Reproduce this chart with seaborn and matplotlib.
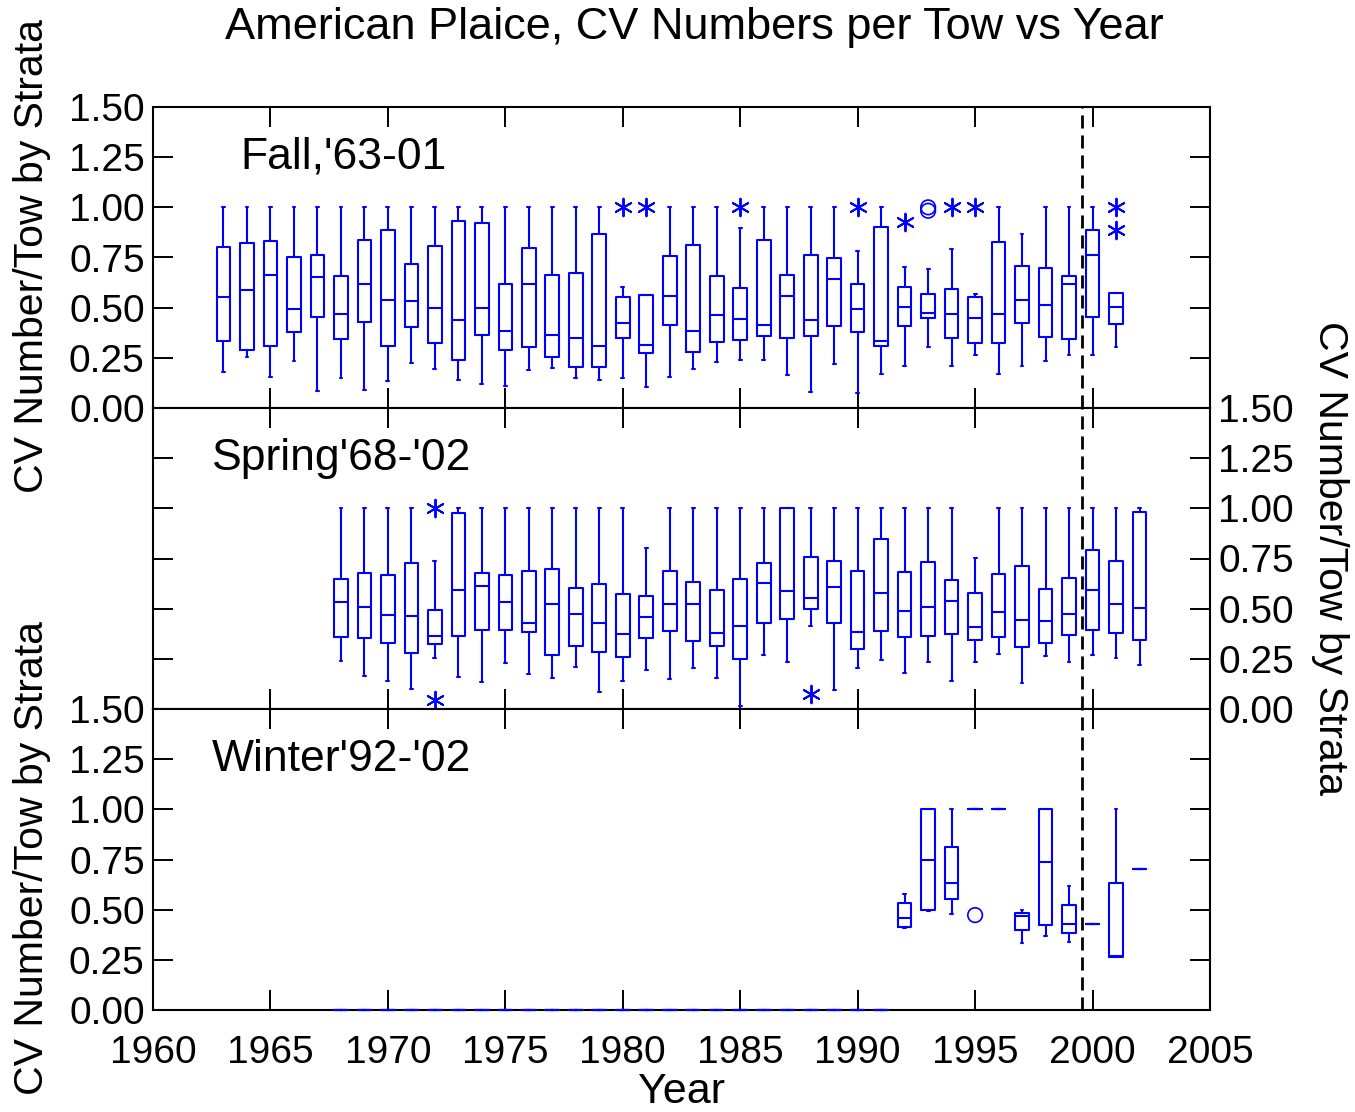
import numpy as np
import pandas as pd
import seaborn as sns
import matplotlib.pyplot as plt
from matplotlib.ticker import FormatStrFormatter, MultipleLocator

# Fall survey, five-number summaries per year
fall_years = list(range(1963, 2002))
fall_low = [0.18, 0.254, 0.154, 0.233, 0.085, 0.151, 0.09, 0.135, 0.226, 0.196,
            0.139, 0.119, 0.108, 0.191, 0.20, 0.15, 0.139, 0.151, 0.106, 0.155,
            0.195, 0.229, 0.241, 0.239, 0.166, 0.08, 0.218, 0.076, 0.167, 0.211,
            0.305, 0.209, 0.265, 0.167, 0.211, 0.234, 0.265, 0.265, 0.302]
fall_q1 = [0.335, 0.29, 0.309, 0.38, 0.452, 0.345, 0.43, 0.31, 0.405, 0.324,
           0.239, 0.365, 0.29, 0.304, 0.254, 0.203, 0.203, 0.349, 0.272, 0.415,
           0.277, 0.327, 0.339, 0.357, 0.349, 0.36, 0.408, 0.38, 0.309, 0.407,
           0.448, 0.349, 0.324, 0.325, 0.424, 0.355, 0.345, 0.452, 0.419]
fall_med = [0.553, 0.59, 0.664, 0.495, 0.653, 0.468, 0.618, 0.54, 0.535, 0.497,
            0.44, 0.497, 0.385, 0.619, 0.365, 0.347, 0.31, 0.425, 0.312, 0.559,
            0.385, 0.463, 0.445, 0.415, 0.559, 0.437, 0.644, 0.492, 0.335, 0.501,
            0.473, 0.468, 0.447, 0.466, 0.536, 0.513, 0.619, 0.762, 0.501]
fall_q3 = [0.80, 0.82, 0.834, 0.754, 0.761, 0.659, 0.839, 0.888, 0.717, 0.809,
           0.93, 0.92, 0.616, 0.799, 0.661, 0.674, 0.869, 0.555, 0.562, 0.755,
           0.81, 0.656, 0.598, 0.837, 0.663, 0.764, 0.749, 0.618, 0.903, 0.601,
           0.567, 0.593, 0.553, 0.825, 0.709, 0.698, 0.658, 0.888, 0.574]
fall_high = [1.0, 1.0, 1.0, 1.0, 1.0, 1.0, 1.0, 1.0, 1.0, 1.0,
             1.0, 1.0, 1.0, 1.0, 1.0, 1.0, 1.0, 0.605, 0.562, 1.0,
             1.0, 1.0, 0.897, 1.0, 1.0, 1.0, 1.0, 0.782, 1.0, 0.704,
             0.692, 0.791, 0.567, 1.0, 0.869, 1.0, 1.0, 1.0, 0.574]
fall_star_years = [1980, 1981, 1985, 1990, 1992, 1994, 1995, 2001, 2001]
fall_star_vals = [1.0, 1.0, 1.0, 1.0, 0.927, 1.0, 1.0, 1.0, 0.887]
fall_circ_years = [1993, 1993]
fall_circ_vals = [1.0, 0.983]

# Spring survey
spring_years = list(range(1968, 2003))
spring_low = [0.238, 0.164, 0.14, 0.101, 0.254, 0.159, 0.133, 0.228, 0.174, 0.154,
              0.209, 0.086, 0.14, 0.194, 0.149, 0.203, 0.156, 0.015, 0.269, 0.234,
              0.415, 0.095, 0.206, 0.243, 0.178, 0.236, 0.14, 0.234, 0.274, 0.131,
              0.266, 0.236, 0.268, 0.253, 0.221]
spring_q1 = [0.357, 0.355, 0.327, 0.277, 0.324, 0.365, 0.394, 0.395, 0.385, 0.269,
             0.314, 0.286, 0.259, 0.354, 0.389, 0.339, 0.315, 0.251, 0.428, 0.448,
             0.497, 0.427, 0.299, 0.389, 0.359, 0.365, 0.372, 0.342, 0.359, 0.309,
             0.329, 0.369, 0.395, 0.377, 0.342]
spring_med = [0.532, 0.507, 0.467, 0.462, 0.362, 0.591, 0.613, 0.533, 0.43, 0.522,
              0.475, 0.427, 0.375, 0.458, 0.525, 0.523, 0.38, 0.415, 0.629, 0.589,
              0.555, 0.608, 0.384, 0.576, 0.487, 0.508, 0.537, 0.41, 0.485, 0.442,
              0.438, 0.472, 0.594, 0.522, 0.505]
spring_q3 = [0.648, 0.676, 0.669, 0.726, 0.495, 0.975, 0.678, 0.666, 0.688, 0.698,
             0.603, 0.623, 0.571, 0.562, 0.689, 0.633, 0.594, 0.646, 0.729, 1.0,
             0.757, 0.736, 0.688, 0.846, 0.684, 0.734, 0.643, 0.576, 0.673, 0.715,
             0.60, 0.654, 0.792, 0.736, 0.982]
spring_high = [1.0, 1.0, 1.0, 1.0, 0.736, 1.0, 1.0, 1.0, 1.0, 1.0,
               1.0, 1.0, 1.0, 0.802, 1.0, 1.0, 1.0, 1.0, 1.0, 1.0,
               1.0, 1.0, 1.0, 1.0, 1.0, 1.0, 1.0, 0.754, 1.0, 1.0,
               1.0, 1.0, 1.0, 1.0, 1.0]
spring_star_years = [1972, 1972, 1988]
spring_star_vals = [1.0, 0.045, 0.073]

# Winter survey (no tows before 1992 -> zero)
winter_years = list(range(1968, 2003))
winter_low = [0.0, 0.0, 0.0, 0.0, 0.0, 0.0, 0.0, 0.0, 0.0, 0.0, 0.0, 0.0,
              0.0, 0.0, 0.0, 0.0, 0.0, 0.0, 0.0, 0.0, 0.0, 0.0, 0.0, 0.0,
              0.409, 0.495, 0.477, 1.0, 1.0, 0.332, 0.37, 0.34, 0.428, 0.266, 0.701]
winter_q1 = [0.0, 0.0, 0.0, 0.0, 0.0, 0.0, 0.0, 0.0, 0.0, 0.0, 0.0, 0.0,
             0.0, 0.0, 0.0, 0.0, 0.0, 0.0, 0.0, 0.0, 0.0, 0.0, 0.0, 0.0,
             0.415, 0.498, 0.555, 1.0, 1.0, 0.399, 0.422, 0.385, 0.428, 0.266, 0.701]
winter_med = [0.0, 0.0, 0.0, 0.0, 0.0, 0.0, 0.0, 0.0, 0.0, 0.0, 0.0, 0.0,
              0.0, 0.0, 0.0, 0.0, 0.0, 0.0, 0.0, 0.0, 0.0, 0.0, 0.0, 0.0,
              0.458, 0.749, 0.631, 1.0, 1.0, 0.468, 0.739, 0.43, 0.428, 0.27, 0.701]
winter_q3 = [0.0, 0.0, 0.0, 0.0, 0.0, 0.0, 0.0, 0.0, 0.0, 0.0, 0.0, 0.0,
             0.0, 0.0, 0.0, 0.0, 0.0, 0.0, 0.0, 0.0, 0.0, 0.0, 0.0, 0.0,
             0.532, 1.0, 0.814, 1.0, 1.0, 0.483, 1.0, 0.523, 0.428, 0.634, 0.701]
winter_high = [0.0, 0.0, 0.0, 0.0, 0.0, 0.0, 0.0, 0.0, 0.0, 0.0, 0.0, 0.0,
               0.0, 0.0, 0.0, 0.0, 0.0, 0.0, 0.0, 0.0, 0.0, 0.0, 0.0, 0.0,
               0.576, 1.0, 1.0, 1.0, 1.0, 0.498, 1.0, 0.619, 0.428, 1.0, 0.701]
winter_circ_years = [1995]
winter_circ_vals = [0.473]

panel_names = ["Fall,'63-01", "Spring'68-'02", "Winter'92-'02"]
ylab = 'CV Number/Tow by Strata'


def long_table(years, low, q1, med, q3, high):
    #five values per year give exactly these quartiles
    rows = []
    for i, yr in enumerate(years):
        for v in (low[i], q1[i], med[i], q3[i], high[i]):
            rows.append({'year': yr, 'cv': v})
    return pd.DataFrame(rows)


tables = [
    long_table(fall_years, fall_low, fall_q1, fall_med, fall_q3, fall_high),
    long_table(spring_years, spring_low, spring_q1, spring_med, spring_q3, spring_high),
    long_table(winter_years, winter_low, winter_q1, winter_med, winter_q3, winter_high),
]
stars = [(fall_star_years, fall_star_vals), (spring_star_years, spring_star_vals), ([], [])]
circles = [(fall_circ_years, fall_circ_vals), ([], []), (winter_circ_years, winter_circ_vals)]

sns.set_style('ticks')
plt.rcParams['font.family'] = ['Liberation Sans', 'DejaVu Sans']
plt.rcParams['text.color'] = 'black'
FS = 28

fig = plt.figure(figsize=(13.55, 11.12), dpi=100)
W, H = 1355, 1112
bottoms = [408, 709, 1010]
axes = [fig.add_axes([153 / W, 1 - b / H, 1057 / W, 301 / H]) for b in bottoms]

for k, ax in enumerate(axes):
    sns.boxplot(data=tables[k], x='year', y='cv', native_scale=True, width=0.58,
                whis=(0, 100), fill=False, color='blue', saturation=1,
                linewidth=1.5, capwidths=0.12, ax=ax)
    sy, sv = stars[k]
    if len(sy):
        sns.scatterplot(x=sy, y=sv, marker=(6, 2, 0), s=160, color='blue',
                        linewidth=1.4, ax=ax, zorder=3)
    cy, cv = circles[k]
    if len(cy):
        sns.scatterplot(x=cy, y=cv, marker='o', s=110, facecolor='none',
                        edgecolor='blue', linewidth=1.2, ax=ax, zorder=3)

    ax.axvline(1999.55, color='black', ls=(0, (4.7, 2.5)), lw=2, zorder=4)
    ax.set_xlim(1960, 2005)
    ax.set_ylim(0, 1.5)
    ax.xaxis.set_major_locator(MultipleLocator(5))
    ax.yaxis.set_major_locator(MultipleLocator(0.25))
    ax.yaxis.set_major_formatter(FormatStrFormatter('%.2f'))
    ax.tick_params(direction='in', length=14.5, width=1.4, top=True, right=True,
                   labelsize=FS, colors='black', labelcolor='black', pad=6)
    ax.tick_params(axis='x', pad=18)
    ax.tick_params(labelbottom=(k == 2))
    if k == 1:
        ax.tick_params(labelleft=False, labelright=True)
    for s in ax.spines.values():
        s.set_linewidth(1.5)
        s.set_color('black')
        s.set_zorder(1)
    #let the empty winter years show on the bottom axis line
    for ln in ax.lines:
        ln.set_clip_on(False)
    ax.set_xlabel('')
    ax.set_ylabel('')
    tx = 1963.7 if k == 0 else 1962.5
    ax.text(tx, 1.25, panel_names[k], fontsize=32, ha='left', va='center', color='black')

fig.text(694 / W, 1 - 28 / H, 'American Plaice, CV Numbers per Tow vs Year',
         fontsize=32.5, ha='center', va='center', color='black')
fig.text(682 / W, 1 - 1092 / H, 'Year', fontsize=31, ha='center', va='center', color='black')
fig.text(32 / W, 1 - 256 / H, ylab, fontsize=29.5, rotation=90, ha='center', va='center', color='black')
fig.text(32 / W, 1 - 858 / H, ylab, fontsize=29.5, rotation=90, ha='center', va='center', color='black')
fig.text(1330 / W, 1 - 558 / H, ylab, fontsize=29.5, rotation=270, ha='center', va='center', color='black')

fig.savefig('out.png', dpi=100, facecolor='white')
